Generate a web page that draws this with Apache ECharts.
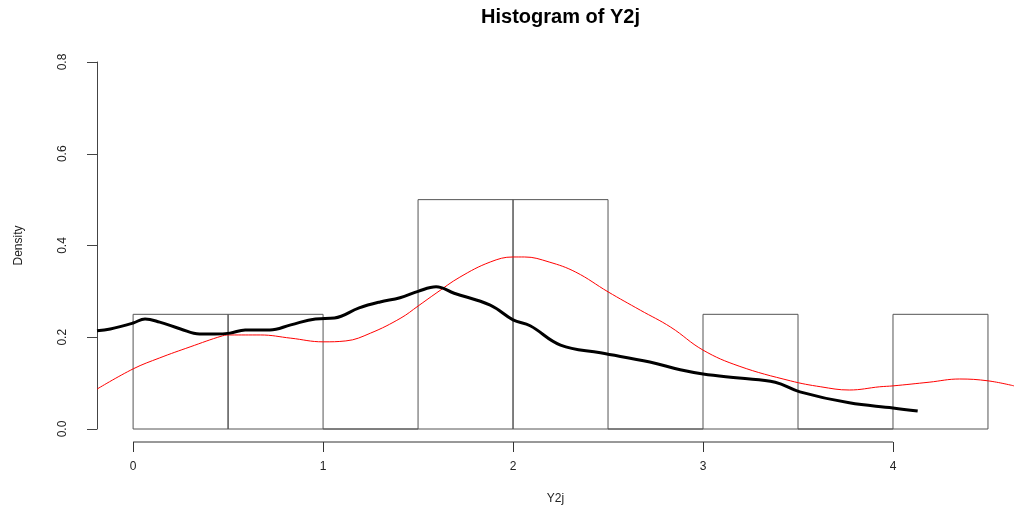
<!DOCTYPE html>
<html>
<head>
<meta charset="utf-8">
<script src="https://cdn.jsdelivr.net/npm/echarts@6/dist/echarts.min.js"></script>
<style>
  html, body { margin: 0; padding: 0; background: #fff; }
  #main { width: 1014px; height: 512px; }
</style>
</head>
<body>
<div id="main"></div>
<script>
// histogram bins (edges) and densities
const binEdges = [0, 0.5, 1, 1.5, 2, 2.5, 3, 3.5, 4, 4.5];
const binDensity = [0.25, 0.25, 0, 0.5, 0.5, 0, 0.25, 0, 0.25];

// black kernel density curve
const blackX = [-0.19, -0.12, 0, 0.063, 0.14, 0.25, 0.35, 0.43, 0.51, 0.59, 0.72, 0.83, 0.96, 1.06, 1.19, 1.3, 1.405, 1.5, 1.595, 1.69, 1.88, 2.0, 2.09, 2.25, 2.46, 2.72, 2.88, 3.0, 3.19, 3.38, 3.51, 3.77, 4.0, 4.13];
const blackY = [0.214, 0.218, 0.231, 0.24, 0.233, 0.218, 0.207, 0.207, 0.209, 0.216, 0.216, 0.227, 0.24, 0.242, 0.264, 0.277, 0.286, 0.30, 0.31, 0.296, 0.27, 0.238, 0.225, 0.183, 0.166, 0.146, 0.129, 0.12, 0.111, 0.102, 0.081, 0.057, 0.046, 0.039];

// red density curve
const redX = [-0.19, 0, 0.14, 0.3, 0.47, 0.51, 0.67, 0.83, 1.0, 1.12, 1.25, 1.41, 1.5, 1.595, 1.72, 1.88, 2.0, 2.06, 2.19, 2.33, 2.5, 2.67, 2.83, 3.0, 3.19, 3.46, 3.62, 3.77, 3.93, 4.0, 4.19, 4.35, 4.5, 4.637];
const redY = [0.087, 0.131, 0.155, 0.179, 0.203, 0.205, 0.205, 0.198, 0.19, 0.192, 0.209, 0.242, 0.268, 0.296, 0.331, 0.364, 0.375, 0.375, 0.364, 0.342, 0.299, 0.259, 0.222, 0.172, 0.137, 0.105, 0.092, 0.085, 0.092, 0.094, 0.102, 0.109, 0.105, 0.094];

const xTicks = [0, 1, 2, 3, 4];
const yTicks = [0, 0.2, 0.4, 0.6, 0.8];

const chart = echarts.init(document.getElementById('main'));
const font = '"Liberation Sans", Arial, sans-serif';
const xOffset = 13;

const bars = binDensity.map((d, i) => [binEdges[i], binEdges[i + 1], d]);

const option = {
  animation: false,
  grid: { left: 97, right: 0, top: 62, bottom: 83 },
  xAxis: {
    type: 'value',
    min: -0.19,
    max: 4.637,
    offset: xOffset,
    splitLine: { show: false },
    axisLine: { show: false, onZero: false },
    axisTick: { show: true, length: 10, customValues: xTicks, lineStyle: { color: '#333' } },
    axisLabel: {
      customValues: xTicks,
      margin: 19,
      fontSize: 12,
      fontFamily: font,
      color: '#222'
    },
    name: 'Y2j',
    nameLocation: 'middle',
    nameGap: 51,
    nameTextStyle: { fontSize: 12, fontFamily: font, color: '#222' }
  },
  yAxis: {
    type: 'value',
    min: 0,
    max: 0.8,
    interval: 0.2,
    splitLine: { show: false },
    axisLine: { show: true, onZero: false, lineStyle: { color: '#444' } },
    axisTick: { show: true, length: 10, lineStyle: { color: '#444' } },
    axisLabel: {
      rotate: 90,
      margin: 28,
      fontSize: 12,
      fontFamily: font,
      color: '#222',
      formatter: v => v.toFixed(1)
    },
    name: 'Density',
    nameLocation: 'middle',
    nameGap: 72,
    nameTextStyle: { fontSize: 12, fontFamily: font, color: '#222' }
  },
  series: [
    {
      type: 'custom',
      data: bars,
      encode: { x: [0, 1], y: 2 },
      clip: false,
      renderItem: function (params, api) {
        const a = api.coord([api.value(0), api.value(2)]);
        const b = api.coord([api.value(1), 0]);
        return {
          type: 'rect',
          shape: { x: a[0], y: a[1], width: b[0] - a[0], height: b[1] - a[1] },
          style: { fill: 'none', stroke: '#555', lineWidth: 1 }
        };
      }
    },
    {
      type: 'line',
      data: redX.map((x, i) => [x, redY[i]]),
      smooth: 0.4,
      showSymbol: false,
      lineStyle: { color: '#ff0000', width: 1 },
      z: 3
    },
    {
      type: 'line',
      data: blackX.map((x, i) => [x, blackY[i]]),
      smooth: 0.4,
      showSymbol: false,
      lineStyle: { color: '#000', width: 3 },
      z: 4
    }
  ]
};

chart.setOption(option);

// R-style x axis line spanning first to last tick, below the plot
const p0 = chart.convertToPixel({ gridIndex: 0 }, [xTicks[0], 0]);
const p1 = chart.convertToPixel({ gridIndex: 0 }, [xTicks[xTicks.length - 1], 0]);
const grid = chart.getModel().getComponent('grid').coordinateSystem.getRect();
chart.setOption({
  graphic: [
    {
      type: 'line',
      shape: { x1: p0[0], y1: p0[1] + xOffset, x2: p1[0], y2: p1[1] + xOffset },
      style: { stroke: '#333', lineWidth: 1 }
    },
    {
      type: 'text',
      x: grid.x + grid.width / 2 + 5,
      y: 17,
      style: {
        text: 'Histogram of Y2j',
        font: 'bold 20px ' + font,
        fill: '#000',
        textAlign: 'center',
        textVerticalAlign: 'middle'
      }
    }
  ]
});
</script>
</body>
</html>
